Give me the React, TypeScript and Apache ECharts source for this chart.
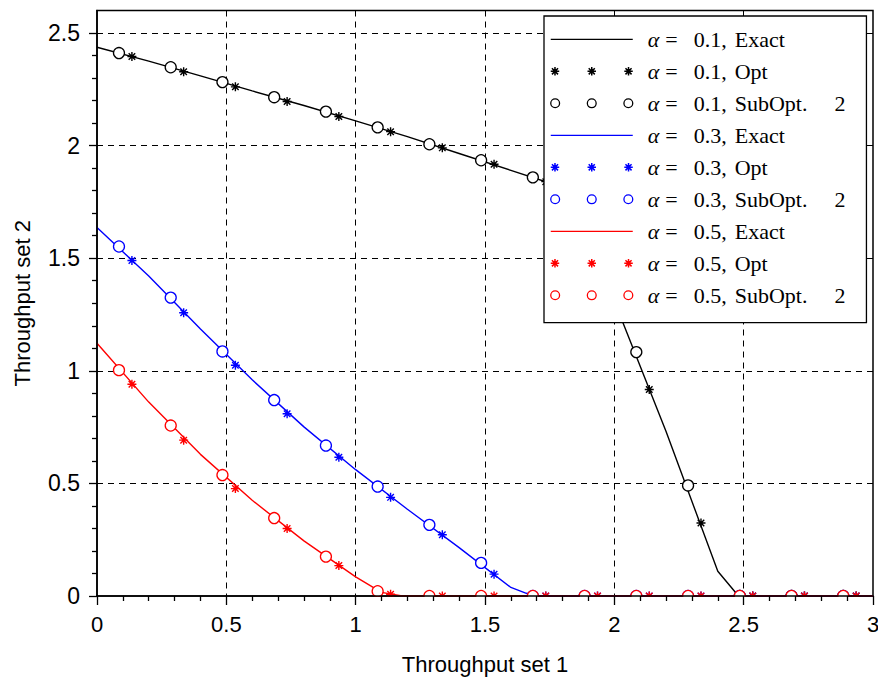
import React, { useEffect, useRef } from 'react';
import * as echarts from 'echarts';

// Marker x positions
const xOpt = [0.135, 0.335, 0.535, 0.735, 0.935, 1.135, 1.335, 1.535, 1.735, 1.935, 2.135, 2.335, 2.535, 2.735, 2.935];
const xSub = [0.085, 0.285, 0.485, 0.685, 0.885, 1.085, 1.285, 1.485, 1.685, 1.885, 2.085, 2.285, 2.485, 2.685, 2.885];

// alpha = 0.1
const blackExactX = [0, 0.2, 0.4, 0.6, 0.8, 1.0, 1.2, 1.4, 1.6, 1.8, 2.0, 2.2, 2.4, 2.48, 3.0];
const blackExactY = [2.437, 2.375, 2.31, 2.243, 2.178, 2.11, 2.04, 1.965, 1.89, 1.815, 1.31, 0.73, 0.11, 0, 0];
const blackOpt = [2.396, 2.328, 2.261, 2.196, 2.129, 2.062, 1.99, 1.917, 1.84, 1.48, 0.917, 0.324, 0, 0, 0];
const blackSub = [2.411, 2.348, 2.282, 2.215, 2.151, 2.081, 2.006, 1.935, 1.859, 1.6, 1.083, 0.491, 0, 0, 0];

// alpha = 0.3
const blueExactX = [0, 0.2, 0.4, 0.6, 0.8, 1.0, 1.2, 1.4, 1.6, 1.66, 1.7, 3.0];
const blueExactY = [1.636, 1.421, 1.186, 0.96, 0.751, 0.561, 0.385, 0.215, 0.038, 0.012, 0, 0];
const blueOpt = [1.49, 1.258, 1.025, 0.809, 0.616, 0.438, 0.272, 0.097, 0, 0, 0, 0, 0, 0, 0];
const blueSub = [1.552, 1.325, 1.086, 0.87, 0.668, 0.486, 0.316, 0.147, 0, 0, 0, 0, 0, 0, 0];

// alpha = 0.5
const redExactX = [0, 0.2, 0.4, 0.6, 0.8, 1.0, 1.1, 1.18, 3.0];
const redExactY = [1.122, 0.861, 0.629, 0.425, 0.245, 0.085, 0.016, 0, 0];
const redOpt = [0.94, 0.692, 0.477, 0.3, 0.135, 0.008, 0, 0, 0, 0, 0, 0, 0, 0, 0];
const redSub = [1.003, 0.757, 0.537, 0.346, 0.175, 0.021, 0, 0, 0, 0, 0, 0, 0, 0, 0];

const alphas = ['0.1', '0.3', '0.5'];
const methods = ['Exact', 'Opt', 'SubOpt.'];
const colors = ['#000000', '#0000ff', '#ff0000'];
const yTicks = [0, 0.5, 1, 1.5, 2, 2.5];

const zip = (xs: number[], ys: number[]) => xs.map((x, i) => [x, ys[i]]);

const STAR = 'path://M0,-4L0,4M-4,0L4,0M-2.9,-2.9L2.9,2.9M-2.9,2.9L2.9,-2.9';

function starAt(cx: number, cy: number, r: number) {
  const d = r * 0.72;
  return `M${cx},${cy - r}L${cx},${cy + r}M${cx - r},${cy}L${cx + r},${cy}M${cx - d},${cy - d}L${cx + d},${cy + d}M${cx - d},${cy + d}L${cx + d},${cy - d}`;
}
function circleAt(cx: number, cy: number, r: number) {
  return `M${cx - r},${cy}A${r},${r},0,1,0,${cx + r},${cy}A${r},${r},0,1,0,${cx - r},${cy}Z`;
}
const ICON_STARS = 'path://' + starAt(4.5, 5, 4.2) + starAt(41, 5, 4.2) + starAt(77.5, 5, 4.2);
const ICON_CIRCLES = 'path://' + circleAt(4.5, 5, 4.4) + circleAt(41, 5, 4.4) + circleAt(77.5, 5, 4.4);
const ICON_LINE = 'path://M0,0L82,0L82,1.3L0,1.3Z';

const SERIF = 'Liberation Serif';
const FS = 22;

export default function App() {
  const ref = useRef<HTMLDivElement>(null);
  useEffect(() => {
    if (!ref.current) return;
    const chart = echarts.init(ref.current, undefined, { renderer: 'svg' });
    const exacts = [zip(blackExactX, blackExactY), zip(blueExactX, blueExactY), zip(redExactX, redExactY)];
    const opts = [blackOpt, blueOpt, redOpt];
    const subs = [blackSub, blueSub, redSub];

    const series: any[] = [];
    const legendData: any[] = [];
    alphas.forEach((a, i) => {
      const c = colors[i];
      const nExact = `α = ${a}, ${methods[0]}`;
      const nOpt = `α = ${a}, ${methods[1]}`;
      const nSub = `α = ${a}, ${methods[2]} 2`;
      series.push({
        name: nExact, type: 'line', data: exacts[i], symbol: 'none',
        lineStyle: { color: c, width: 1.4 }, itemStyle: { color: c }, z: 2,
      });
      series.push({
        name: nOpt, type: 'scatter', data: zip(xOpt, opts[i]), symbol: STAR, symbolSize: 9,
        itemStyle: { color: 'transparent', borderColor: c, borderWidth: 1.4, opacity: 1 }, z: 2,
      });
      series.push({
        name: nSub, type: 'scatter', data: zip(xSub, subs[i]), symbol: 'circle', symbolSize: 11,
        itemStyle: { color: '#ffffff', borderColor: c, borderWidth: 1.3, opacity: 1 }, z: 2,
      });
      legendData.push({ name: nExact, icon: ICON_LINE, itemStyle: { color: c, borderColor: 'transparent', borderWidth: 0 } });
      legendData.push({ name: nOpt, icon: ICON_STARS, itemStyle: { color: 'transparent', borderColor: c, borderWidth: 1.5 } });
      legendData.push({ name: nSub, icon: ICON_CIRCLES, itemStyle: { color: '#ffffff', borderColor: c, borderWidth: 1.3 } });
    });

    const labelFont = { fontFamily: 'Liberation Sans', fontSize: 22, color: '#000' };
    const base = { fontFamily: SERIF, fontSize: FS, color: '#000', lineHeight: 20 };

    chart.setOption({
      animation: false,
      backgroundColor: '#ffffff',
      grid: {
        left: 97, right: 5, top: 10.5, bottom: 85,
        show: true, borderColor: '#000', borderWidth: 1.5, backgroundColor: 'transparent',
        containLabel: false, outerBoundsMode: 'none',
      },
      xAxis: [
        {
          type: 'value', min: 0, max: 3, interval: 0.5, position: 'bottom',
          axisLine: { show: false }, axisTick: { show: false }, axisLabel: { show: false },
          splitLine: { show: true, showMinLine: false, showMaxLine: false, lineStyle: { color: '#000', width: 1, type: [6, 5] } },
          z: 0,
        },
        {
          type: 'value', min: 0, max: 3, interval: 0.5, position: 'bottom', offset: 0,
          axisLine: { show: true, onZero: false, lineStyle: { color: '#000', width: 1.6 } },
          axisTick: { show: true, inside: false, length: 9, lineStyle: { color: '#000', width: 1.3 } },
          minorTick: { show: true, splitNumber: 5, length: 5, lineStyle: { color: '#000', width: 1.3 } },
          axisLabel: { show: true, margin: 17, ...labelFont },
          splitLine: { show: false },
          name: 'Throughput set 1', nameLocation: 'middle', nameGap: 57, nameMoveOverlap: false,
          nameTextStyle: { ...labelFont },
          z: 5,
        },
      ],
      yAxis: [
        {
          type: 'value', min: 0, max: 2.6, interval: 0.5, position: 'left',
          axisLine: { show: false }, axisTick: { show: false }, axisLabel: { show: false },
          splitLine: { show: true, showMinLine: false, showMaxLine: false, lineStyle: { color: '#000', width: 1, type: [6, 5] } },
          z: 0,
        },
        {
          type: 'value', min: 0, max: 2.6, interval: 0.5, position: 'left', offset: 0,
          axisLine: { show: true, onZero: false, lineStyle: { color: '#000', width: 1.6 } },
          axisTick: { show: true, inside: false, length: 8, customValues: yTicks, lineStyle: { color: '#000', width: 1.3 } },
          minorTick: { show: true, splitNumber: 5, length: 5, lineStyle: { color: '#000', width: 1.3 } },
          axisLabel: { show: true, margin: 17, customValues: yTicks, ...labelFont, fontSize: 23 },
          splitLine: { show: false },
          name: 'Throughput set 2', nameLocation: 'middle', nameGap: 64, nameMoveOverlap: false,
          nameTextStyle: { ...labelFont },
          z: 5,
        },
      ],
      legend: {
        orient: 'vertical', left: 544, top: 16,
        data: legendData,
        selectedMode: false,
        itemWidth: 82, itemHeight: 10, itemGap: 10,
        padding: [12.3, 21, 16.4, 6],
        backgroundColor: '#ffffff', borderColor: '#000', borderWidth: 1.3, borderRadius: 0,
        textStyle: {
          ...base,
          rich: {
            sp: { ...base, width: 10 },
            g: { ...base, fontStyle: 'italic' },
            eq: { ...base, padding: [0, 16, 0, 6] },
            t: { ...base },
            m: { ...base, padding: [0, 0, 0, 8] },
            n: { ...base, padding: [0, 0, 0, 27] },
          },
        },
        formatter: (name: string) => {
          const mm = name.match(/^α = ([0-9.]+), (\S+)( 2)?$/);
          if (!mm) return name;
          return `{sp|}{g|α}{eq|=}{t|${mm[1]},}{m|${mm[2]}}` + (mm[3] ? `{n|2}` : '');
        },
        z: 6,
      },
      graphic: [
        {
          type: 'rect', z: 3, silent: true,
          shape: { x: 97.5, y: 597, width: 776, height: 14 },
          style: { fill: '#ffffff' },
        },
      ],
      series,
    } as any);
    return () => chart.dispose();
  }, []);
  return <div ref={ref} style={{ position: 'absolute', left: 0, top: 0, width: 878, height: 681 }} />;
}
